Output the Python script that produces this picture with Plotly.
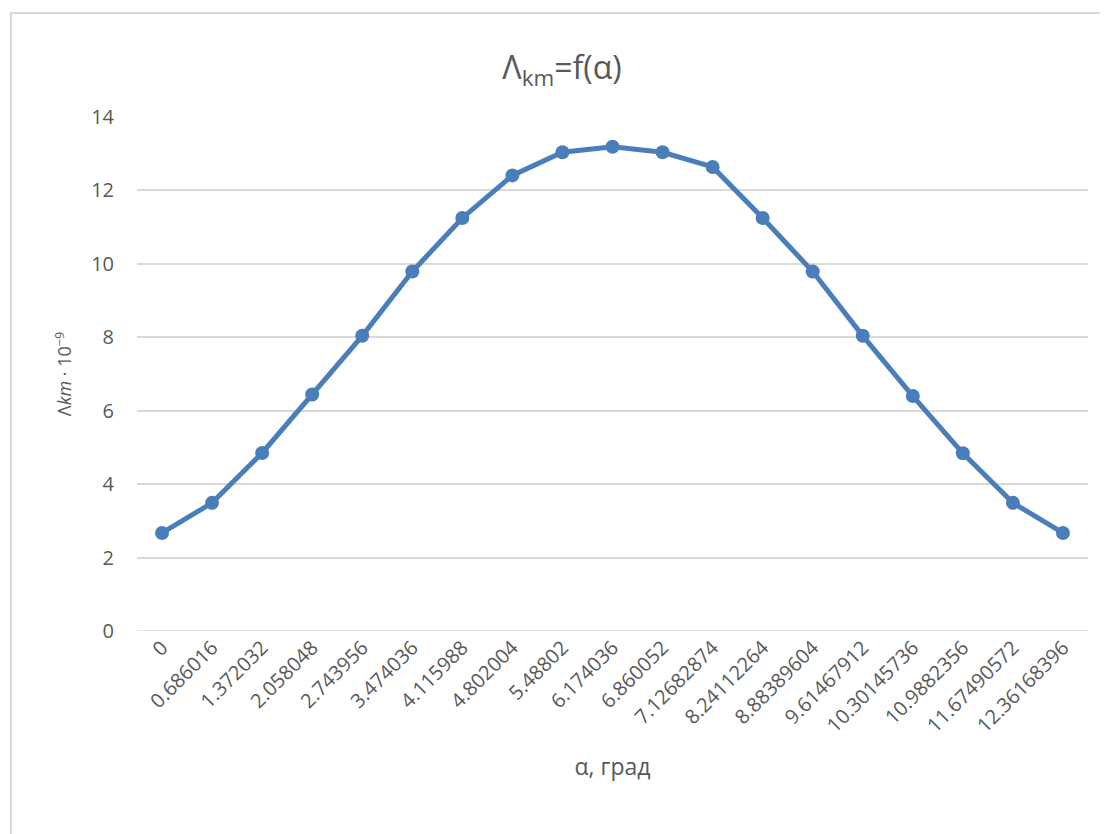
import plotly.graph_objects as go

alpha_labels = ["0", "0.686016", "1.372032", "2.058048", "2.743956", "3.474036",
                "4.115988", "4.802004", "5.48802", "6.174036", "6.860052",
                "7.12682874", "8.24112264", "8.88389604", "9.61467912",
                "10.30145736", "10.9882356", "11.67490572", "12.36168396"]
lambda_km = [2.67, 3.49, 4.85, 6.44, 8.04, 9.79, 11.25, 12.41, 13.04, 13.19,
             13.04, 12.64, 11.25, 9.79, 8.04, 6.40, 4.84, 3.49, 2.67]
y_ticks = [0, 2, 4, 6, 8, 10, 12, 14]

GRAY = "#595959"
BLUE = "#4a7ebb"
FONT = "Open Sans"

OFF = 8  # page body margin
W, H = 1100, 826
ml, mr, mt, mb = 137 - OFF, 20, 117 - OFF, 203
pw, ph = W - ml - mr, H - mt - mb

def px_x(x):  # screen px -> paper x
    return (x - OFF - ml) / pw

def px_y(y):  # screen px -> paper y
    return (H - mb - (y - OFF)) / ph

fig = go.Figure()
fig.add_trace(go.Scatter(
    x=alpha_labels, y=lambda_km, mode="lines+markers",
    line=dict(color=BLUE, width=5),
    marker=dict(color=BLUE, size=14),
    showlegend=False,
))

fig.update_layout(
    width=W, height=H,
    margin=dict(l=ml, r=mr, t=mt, b=mb),
    paper_bgcolor="white", plot_bgcolor="white",
    font=dict(family=FONT, color=GRAY),
    title=dict(text="Λ<sub>km</sub>=f(α)", x=px_x(562), xref="paper",
               xanchor="center", y=1 - (68 - OFF) / H, yanchor="middle",
               font=dict(size=32, color=GRAY, family=FONT)),
    xaxis=dict(type="category", tickangle=-45, tickfont=dict(size=20, color=GRAY),
               showgrid=False, showline=False, ticks="", range=[-0.5, 18.5],
               automargin=False,
               title=dict(text="α, град", font=dict(size=23, color=GRAY), standoff=22)),
    yaxis=dict(range=[0, 14], tickvals=y_ticks, showgrid=True, gridcolor="#d9d9d9",
               gridwidth=1.5, zeroline=False, showline=False, ticks="",
               automargin=False,
               tickfont=dict(size=20, color=GRAY), ticklabelstandoff=22,
               title=dict(text="Λ<i>km</i> · 10<sup>−9</sup>", font=dict(size=18, color=GRAY),
                          standoff=14)),
)

# zero line as gridline
fig.add_shape(type="line", xref="paper", yref="y", x0=0, x1=1, y0=0, y1=0,
              line=dict(color="#d9d9d9", width=1.5), layer="below")

# chart area border
fig.add_shape(type="rect", xref="paper", yref="paper",
              x0=px_x(11), x1=px_x(W + 40), y0=px_y(H + 40), y1=px_y(13),
              line=dict(color="#d9d9d9", width=2), layer="below")

fig.write_html("out.html")
